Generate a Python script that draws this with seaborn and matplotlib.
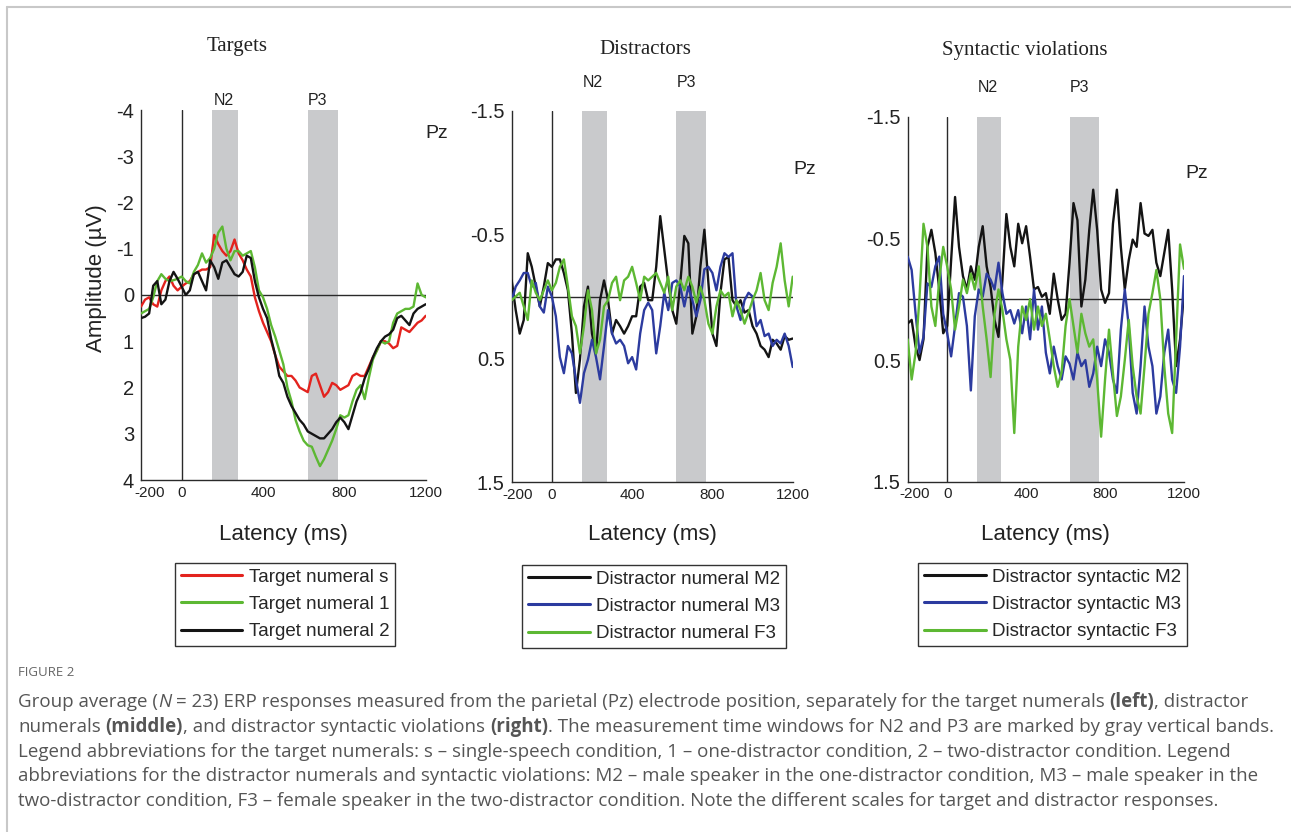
import matplotlib
matplotlib.use("Agg")
import numpy as np
import pandas as pd
import matplotlib.pyplot as plt
import matplotlib.transforms as mtransforms
import seaborn as sns
from matplotlib.lines import Line2D
from matplotlib import font_manager as fm

sns.set_style("white")
plt.rcParams["font.family"] = ["Liberation Sans", "DejaVu Sans"]
plt.rcParams["axes.unicode_minus"] = False

# ---------------- data ----------------
time_ms = list(range(-200, 1201, 20))

# Targets (uV)
target_s = [0.25, 0.1, 0.05, 0.2, 0.25, -0.1, -0.3, -0.4, -0.2, -0.1,
            -0.18, -0.25, -0.3, -0.45, -0.5, -0.55, -0.55, -0.6, -1.3, -1.1,
            -0.95, -0.85, -0.95, -1.2, -0.9, -0.75, -0.55, -0.4, 0.05, 0.35,
            0.6, 0.8, 1.0, 1.3, 1.55, 1.65, 1.75, 1.75, 1.85, 2.0,
            2.05, 2.1, 1.75, 1.7, 1.95, 2.2, 2.1, 1.9, 1.95, 2.05,
            2.0, 1.95, 1.75, 1.7, 1.75, 1.75, 1.55, 1.35, 1.2, 1.0,
            1.0, 1.05, 1.15, 1.1, 0.7, 0.75, 0.8, 0.7, 0.6, 0.55,
            0.45]
target_1 = [0.4, 0.35, 0.3, 0.05, -0.3, -0.45, -0.35, -0.3, -0.32, -0.35,
            -0.4, -0.3, -0.25, -0.5, -0.65, -0.9, -0.7, -0.8, -1.0, -1.35,
            -1.48, -1.0, -0.75, -0.95, -0.95, -0.85, -0.9, -0.95, -0.6, -0.1,
            0.05, 0.3, 0.65, 0.9, 1.2, 1.5, 2.0, 2.3, 2.7, 2.95,
            3.15, 3.25, 3.28, 3.5, 3.7, 3.55, 3.35, 3.15, 2.9, 2.6,
            2.65, 2.6, 2.3, 2.05, 1.95, 2.25, 1.8, 1.4, 1.2, 1.0,
            1.05, 1.0, 0.6, 0.4, 0.35, 0.3, 0.3, 0.25, -0.25, 0.0,
            0.05]
target_2 = [0.5, 0.47, 0.4, -0.2, -0.3, 0.2, 0.1, -0.3, -0.5, -0.35,
            -0.18, 0.0, -0.1, -0.45, -0.5, -0.3, -0.1, -0.75, -0.6, -0.35,
            -0.7, -0.75, -0.6, -0.45, -0.4, -0.5, -0.85, -0.8, -0.3, 0.05,
            0.3, 0.5, 0.95, 1.3, 1.75, 1.9, 2.2, 2.4, 2.55, 2.7,
            2.8, 2.95, 3.0, 3.05, 3.1, 3.1, 3.0, 2.9, 2.75, 2.65,
            2.75, 2.9, 2.6, 2.3, 2.1, 1.8, 1.6, 1.35, 1.15, 1.0,
            0.9, 0.85, 0.75, 0.5, 0.45, 0.55, 0.65, 0.4, 0.3, 0.25,
            0.2]

# Distractor numerals (uV)
num_M2 = [-0.13, 0.11, 0.3, 0.19, -0.35, -0.24, -0.08, 0.08, -0.08, -0.27,
          -0.24, -0.3, -0.3, -0.19, -0.05, 0.3, 0.78, 0.51, 0.08, -0.08,
          0.3, 0.46, 0.03, -0.13, 0.03, 0.3, 0.19, 0.24, 0.3, 0.24,
          0.16, 0.16, -0.08, -0.11, 0.03, 0.03, -0.24, -0.65, -0.38, -0.11,
          0.11, 0.22, -0.11, -0.49, -0.43, 0.3, 0.16, -0.24, -0.54, -0.11,
          0.3, 0.4, -0.03, -0.3, -0.32, 0.03, 0.08, 0.03, 0.13, 0.11,
          0.24, 0.3, 0.4, 0.43, 0.49, 0.35, 0.38, 0.43, 0.32, 0.35,
          0.34]
num_M3 = [0.03, -0.08, -0.13, -0.19, -0.19, -0.08, -0.11, 0.08, 0.13, -0.08,
          0.0, 0.16, 0.49, 0.62, 0.4, 0.46, 0.67, 0.86, 0.62, 0.51,
          0.35, 0.49, 0.67, 0.4, 0.11, 0.3, 0.38, 0.35, 0.4, 0.54,
          0.49, 0.59, 0.3, 0.11, 0.05, 0.11, 0.46, 0.24, -0.03, 0.11,
          -0.11, -0.13, -0.08, 0.08, -0.08, 0.03, 0.16, 0.03, -0.22, -0.24,
          -0.19, -0.05, -0.24, -0.35, -0.32, -0.35, 0.08, 0.19, 0.03, -0.03,
          0.0, 0.24, 0.19, 0.32, 0.3, 0.4, 0.35, 0.38, 0.3, 0.4,
          0.57]
num_F3 = [0.03, 0.0, -0.03, 0.08, 0.19, -0.13, -0.03, 0.03, -0.05, -0.13,
          -0.05, -0.11, -0.24, -0.3, -0.08, 0.16, 0.24, 0.46, 0.24, -0.05,
          0.11, 0.46, 0.35, 0.08, 0.03, -0.11, -0.16, 0.03, -0.13, -0.16,
          -0.24, -0.11, 0.03, -0.16, -0.13, -0.16, -0.19, -0.11, -0.03, -0.16,
          0.11, -0.08, -0.13, -0.05, -0.16, -0.08, 0.05, -0.08, 0.03, 0.22,
          0.3, 0.08, -0.05, 0.0, -0.03, 0.16, 0.03, 0.11, 0.22, 0.13,
          0.03, -0.05, -0.19, 0.03, 0.11, -0.11, -0.24, -0.43, -0.13, 0.08,
          -0.16]

# Distractor syntactic violations (uV)
syn_M2 = [0.2, 0.17, 0.39, 0.5, 0.33, -0.43, -0.57, -0.38, -0.08, 0.28,
          0.22, -0.32, -0.84, -0.43, -0.19, -0.08, -0.27, -0.16, -0.43, -0.6,
          -0.27, -0.1, 0.17, 0.31, -0.16, -0.7, -0.43, -0.27, -0.62, -0.46,
          -0.6, -0.35, -0.08, -0.1, -0.02, -0.05, 0.12, -0.21, 0.0, 0.17,
          0.12, -0.3, -0.79, -0.65, 0.06, -0.16, -0.57, -0.9, -0.57, -0.08,
          0.03, -0.05, -0.62, -0.9, -0.43, -0.08, -0.32, -0.49, -0.43, -0.79,
          -0.54, -0.52, -0.57, -0.3, -0.19, -0.38, -0.57, -0.08, 0.55, 0.33,
          -0.05]
syn_M3 = [-0.35, -0.24, 0.12, 0.44, 0.31, -0.13, -0.1, -0.27, -0.35, 0.12,
          0.28, 0.47, 0.22, -0.05, -0.02, 0.22, 0.75, 0.14, -0.08, -0.02,
          -0.21, -0.16, -0.08, -0.3, -0.05, 0.12, 0.09, 0.2, 0.09, 0.28,
          0.06, 0.33, -0.08, 0.25, 0.06, 0.44, 0.61, 0.39, 0.55, 0.66,
          0.47, 0.53, 0.66, 0.44, 0.55, 0.5, 0.72, 0.61, 0.39, 0.55,
          0.33, 0.44, 0.66, 0.77, 0.25, -0.08, 0.22, 0.77, 0.94, 0.55,
          0.06, 0.39, 0.55, 0.94, 0.8, 0.44, 0.25, 0.66, 0.77, 0.39,
          -0.19]
syn_F3 = [0.33, 0.66, 0.44, -0.02, -0.62, -0.43, 0.06, 0.22, -0.16, -0.43,
          -0.27, -0.08, 0.25, 0.06, -0.16, -0.05, -0.21, -0.08, -0.27, 0.06,
          0.33, 0.64, 0.12, -0.08, 0.09, 0.33, 0.5, 1.1, 0.39, 0.06,
          0.17, 0.0, 0.25, 0.06, 0.22, 0.12, 0.33, 0.55, 0.72, 0.6,
          0.22, 0.0, 0.22, 0.44, 0.12, 0.28, 0.39, 0.33, 0.66, 1.13,
          0.66, 0.25, 0.61, 0.96, 0.8, 0.5, 0.17, 0.55, 0.8, 0.94,
          0.55, 0.12, -0.05, -0.24, 0.0, 0.55, 0.94, 1.1, 0.33, -0.45,
          -0.25]

panel_titles = ["Targets", "Distractors", "Syntactic violations"]
labels_targets = ["Target numeral s", "Target numeral 1", "Target numeral 2"]
labels_numerals = ["Distractor numeral M2", "Distractor numeral M3", "Distractor numeral F3"]
labels_syntactic = ["Distractor syntactic M2", "Distractor syntactic M3", "Distractor syntactic F3"]
n2_window = (150, 275)
p3_window = (620, 770)
xticks = [-200, 0, 400, 800, 1200]
yticks_targets = [-4, -3, -2, -1, 0, 1, 2, 3, 4]
yticks_distr = [-1.5, -0.5, 0.5, 1.5]

# ---------------- style ----------------
RED, GREEN, BLACK, BLUE = "#e3231e", "#5db833", "#141414", "#2c3b9f"
BAND = "#c9cacc"
AXC = "#2a2a2a"
W, H = 1291, 832

fig = plt.figure(figsize=(W / 100, H / 100), dpi=100)

def fx(px):
    return px / W

def fy(py):
    return 1 - py / H

# axes rectangles from pixel boxes (left, top, right, bottom)
boxes = [(141, 110, 425.7, 480), (511.7, 111, 792.7, 482), (907.7, 116.7, 1184, 481.7)]
axes = []
for (l, t, r, b) in boxes:
    axes.append(fig.add_axes([fx(l), fy(b), (r - l) / W, (b - t) / H]))

panels = [
    (axes[0], [target_s, target_1, target_2], labels_targets, [RED, GREEN, BLACK],
     (4, -4), yticks_targets, [str(v) for v in yticks_targets]),
    (axes[1], [num_M2, num_M3, num_F3], labels_numerals, [BLACK, BLUE, GREEN],
     (1.5, -1.5), yticks_distr, ["-1.5", "-0.5", "0.5", "1.5"]),
    (axes[2], [syn_M2, syn_M3, syn_F3], labels_syntactic, [BLACK, BLUE, GREEN],
     (1.5, -1.5), yticks_distr, ["-1.5", "-0.5", "0.5", "1.5"]),
]

label_y = [1.027, 1.078, 1.081]
xlabel_y = [-0.118, -0.113, -0.116]
pz_pos = [(437, 133), (805, 170), (1197, 173)]
title_pos = [(237, 47), (645, 50), (1025, 50)]
legend_pos = [(175, 563), (522, 565), (918, 563)]
first_tick_shift = [9, 6, 7]

for i, (ax, series, labels, colors, ylim, yt, ytl) in enumerate(panels):
    ax.axvspan(*n2_window, color=BAND, lw=0, zorder=0)
    ax.axvspan(*p3_window, color=BAND, lw=0, zorder=0)
    ax.axhline(0, color=AXC, lw=1.0, zorder=1)
    ax.axvline(0, color=AXC, lw=1.0, zorder=1)
    df = pd.DataFrame({
        "time": time_ms * len(series),
        "amp": [v for s in series for v in s],
        "cond": [lab for lab, s in zip(labels, series) for _ in s],
    })
    sns.lineplot(data=df, x="time", y="amp", hue="cond", hue_order=labels,
                 palette=dict(zip(labels, colors)), ax=ax, legend=False,
                 linewidth=1.7, estimator=None, sort=False, zorder=3)
    ax.set_xlim(-200, 1200)
    ax.set_ylim(*ylim)
    ax.set_xticks(xticks)
    ax.set_xticklabels([str(v) for v in xticks])
    ax.set_yticks(yt)
    ax.set_yticklabels(ytl)
    sns.despine(ax=ax)
    for sp in ("left", "bottom"):
        ax.spines[sp].set_color(AXC)
        ax.spines[sp].set_linewidth(1.0)
    ax.tick_params(direction="in", length=4, width=0.8, colors=AXC)
    ax.tick_params(axis="x", labelsize=11, pad=4, labelcolor="#222")
    ax.tick_params(axis="y", labelsize=14.5, pad=5, labelcolor="#222")
    # the "-200" label sits slightly right of the axis origin in the reference
    lab0 = ax.get_xticklabels()[0]
    lab0.set_transform(lab0.get_transform() + mtransforms.ScaledTranslation(
        first_tick_shift[i] / 100, 0, fig.dpi_scale_trans))
    ax.set_xlabel("Latency (ms)", fontsize=16, color="#222")
    ax.xaxis.set_label_coords(0.5, xlabel_y[i])
    ax.set_ylabel("")
    # band labels
    trans = ax.get_xaxis_transform()
    ax.text(205, label_y[i], "N2", transform=trans, ha="center", va="center",
            fontsize=11.5, color="#222")
    ax.text(670, label_y[i], "P3", transform=trans, ha="center", va="center",
            fontsize=11.5, color="#222")
    # Pz
    fig.text(fx(pz_pos[i][0]), fy(pz_pos[i][1]), "Pz", ha="center", va="center",
             fontsize=14, color="#222")
    # title
    fig.text(fx(title_pos[i][0]), fy(title_pos[i][1]), panel_titles[i],
             ha="center", va="center", fontsize=15, color="#222",
             family=["Liberation Serif", "DejaVu Serif"])
    # legend
    handles = [Line2D([0], [0], color=c, lw=2.2) for c in colors]
    leg = fig.legend(handles, labels, loc="upper left",
                     bbox_to_anchor=(fx(legend_pos[i][0]), fy(legend_pos[i][1])),
                     bbox_transform=fig.transFigure, frameon=True, fancybox=False,
                     fontsize=13.5, handlelength=3.3, handletextpad=0.35,
                     labelspacing=0.54, borderpad=0.3, borderaxespad=0,
                     framealpha=1)
    leg.get_frame().set_edgecolor("#333")
    leg.get_frame().set_linewidth(1.0)

axes[0].set_ylabel("Amplitude (\u00b5V)", fontsize=16, color="#222")
axes[0].yaxis.set_label_coords(-0.12, 0.546)

# ---------------- frame lines ----------------
fig.add_artist(Line2D([fx(7), 1.0], [fy(7), fy(7)], transform=fig.transFigure,
                      color="#c8c8c8", lw=1.5))
fig.add_artist(Line2D([fx(7), fx(7)], [0.0, fy(7)], transform=fig.transFigure,
                      color="#c8c8c8", lw=1.5))

# ---------------- caption ----------------
avail = {f.name for f in fm.fontManager.ttflist}
cap_font = "Open Sans" if "Open Sans" in avail else "Liberation Sans"
CAPC = "#555555"

fig.canvas.draw()
renderer = fig.canvas.get_renderer()

def text_w(s, size, **kw):
    t = fig.text(0, 0, s, fontsize=size, family=cap_font, **kw)
    w = t.get_window_extent(renderer).width
    t.remove()
    return w

caption_lines = [
    [("Group average (", {}), ("N", {"style": "italic"}),
     (" = 23) ERP responses measured from the parietal (Pz) electrode position, separately for the target numerals ", {}),
     ("(left)", {"weight": "bold"}), (", distractor", {})],
    [("numerals ", {}), ("(middle)", {"weight": "bold"}),
     (", and distractor syntactic violations ", {}), ("(right)", {"weight": "bold"}),
     (". The measurement time windows for N2 and P3 are marked by gray vertical bands.", {})],
    [("Legend abbreviations for the target numerals: s \u2013 single-speech condition, 1 \u2013 one-distractor condition, 2 \u2013 two-distractor condition. Legend", {})],
    [("abbreviations for the distractor numerals and syntactic violations: M2 \u2013 male speaker in the one-distractor condition, M3 \u2013 male speaker in the", {})],
    [("two-distractor condition, F3 \u2013 female speaker in the two-distractor condition. Note the different scales for target and distractor responses.", {})],
]

def line_width(segs, size):
    sp = text_w("a a", size) - text_w("aa", size)
    total = 0.0
    for s, kw in segs:
        lead = len(s) - len(s.lstrip(" "))
        trail = len(s) - len(s.rstrip(" "))
        total += (lead + trail) * sp + text_w(s.strip(" "), size, **kw)
    return total

base = 11.0
nat = line_width(caption_lines[0], base)
cap_size = base * (1232.0 / nat)

def draw_line(segs, x_px, y_px, size):
    sp = text_w("a a", size) - text_w("aa", size)
    x = x_px
    for s, kw in segs:
        lead = len(s) - len(s.lstrip(" "))
        trail = len(s) - len(s.rstrip(" "))
        core = s.strip(" ")
        x += lead * sp
        t = fig.text(fx(x), fy(y_px), core, fontsize=size, family=cap_font,
                     color=CAPC, ha="left", va="center", **kw)
        x += t.get_window_extent(renderer).width + trail * sp

fig.text(fx(18), fy(672), "FIGURE 2", fontsize=9.5, family=cap_font,
         color="#666666", ha="left", va="center")
for k, segs in enumerate(caption_lines):
    draw_line(segs, 18, 702 + k * 24.8, cap_size)

fig.savefig("out.png", dpi=100)
